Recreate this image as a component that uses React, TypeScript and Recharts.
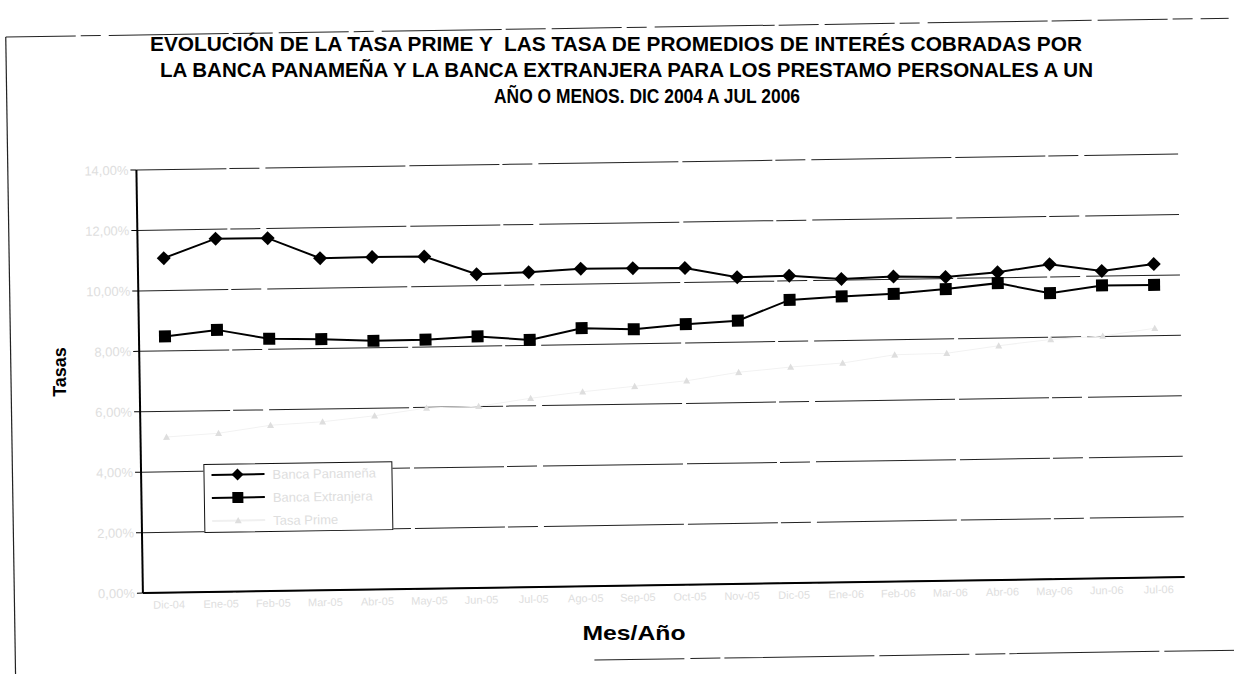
import { LineChart, Line, XAxis, YAxis, CartesianGrid, Legend } from "recharts";

// meses del eje X (etiquetas casi borradas en el original escaneado)
const meses = [
  "Dic-04", "Ene-05", "Feb-05", "Mar-05", "Abr-05", "May-05", "Jun-05", "Jul-05", "Ago-05", "Sep-05",
  "Oct-05", "Nov-05", "Dic-05", "Ene-06", "Feb-06", "Mar-06", "Abr-06", "May-06", "Jun-06", "Jul-06",
];

const bancaPanamena = [
  11.07, 11.69, 11.68, 10.99, 11.0, 10.99, 10.38, 10.42, 10.51, 10.5,
  10.48, 10.15, 10.17, 10.04, 10.09, 10.05, 10.18, 10.42, 10.17, 10.37,
];

const bancaExtranjera = [
  8.48, 8.67, 8.35, 8.31, 8.23, 8.24, 8.32, 8.18, 8.54, 8.48,
  8.62, 8.71, 9.37, 9.46, 9.52, 9.65, 9.82, 9.46, 9.69, 9.68,
];

const tasaPrime = [
  5.15, 5.25, 5.49, 5.58, 5.75, 5.98, 6.01, 6.25, 6.44, 6.59,
  6.75, 7.0, 7.15, 7.26, 7.5, 7.53, 7.75, 7.93, 8.02, 8.25,
];

const yTicks = [0, 2, 4, 6, 8, 10, 12, 14];

const titulo = [
  "EVOLUCIÓN DE LA TASA PRIME Y  LAS TASA DE PROMEDIOS DE INTERÉS COBRADAS POR",
  "LA BANCA PANAMEÑA Y LA BANCA EXTRANJERA PARA LOS PRESTAMO PERSONALES A UN",
  "AÑO O MENOS. DIC 2004 A JUL 2006",
];

const nombres = { panamena: "Banca Panameña", extranjera: "Banca Extranjera", prime: "Tasa Prime" };
const ordenLeyenda = ["panamena", "extranjera", "prime"];

const data = meses.map((mes, i) => ({
  mes,
  panamena: bancaPanamena[i],
  extranjera: bancaExtranjera[i],
  prime: tasaPrime[i],
}));

const FONT = "'Liberation Sans', Arial, sans-serif";
const FAINT = "#dedede";

function diamante(cx: number, cy: number, r: number) {
  return `${cx},${cy - r} ${cx + r},${cy} ${cx},${cy + r} ${cx - r},${cy}`;
}

function triangulo(cx: number, cy: number, r: number) {
  return `${cx},${cy - r} ${cx + r},${cy + r * 0.8} ${cx - r},${cy + r * 0.8}`;
}

const DotDiamante = (p: any) => {
  if (p.cx == null || p.cy == null) return <g key={p.index} />;
  return <polygon key={p.index} points={diamante(p.cx, p.cy, 7)} fill="#000" />;
};

const DotCuadro = (p: any) => {
  if (p.cx == null || p.cy == null) return <g key={p.index} />;
  return <rect key={p.index} x={p.cx - 6} y={p.cy - 6} width={12} height={12} fill="#000" />;
};

const DotTriangulo = (p: any) => {
  if (p.cx == null || p.cy == null) return <g key={p.index} />;
  return <polygon key={p.index} points={triangulo(p.cx, p.cy, 3.5)} fill={FAINT} />;
};

function Leyenda(props: any) {
  const items = [...(props.payload ?? [])].sort(
    (a: any, b: any) => ordenLeyenda.indexOf(a.dataKey) - ordenLeyenda.indexOf(b.dataKey)
  );
  return (
    <div style={{ width: 189, height: 69, boxSizing: "border-box", border: "1.5px solid #111", background: "#fff" }}>
      <svg width={186} height={66} style={{ display: "block" }}>
        {items.map((it: any, i: number) => {
          const y = 10 + i * 23;
          const clave = it.dataKey as string;
          const color = clave === "prime" ? FAINT : "#000";
          return (
            <g key={clave}>
              <line x1={7} x2={60} y1={y} y2={y} stroke={clave === "prime" ? "#f0f0f0" : "#000"} strokeWidth={2} />
              {clave === "panamena" && <polygon points={diamante(33, y, 6)} fill={color} />}
              {clave === "extranjera" && <rect x={27.5} y={y - 5.5} width={11} height={11} fill={color} />}
              {clave === "prime" && <polygon points={triangulo(33, y, 3.5)} fill={color} />}
              <text x={68} y={y + 5} fontSize={13} fontFamily={FONT} fill={FAINT}>
                {it.value}
              </text>
            </g>
          );
        })}
      </svg>
    </div>
  );
}

export default function App() {
  return (
    <div style={{ position: "absolute", left: 0, top: 0, width: 1234, height: 674, background: "#fff" }}>
      {/* el escaneo está ligeramente girado: se gira el gráfico entero */}
      <div
        style={{
          position: "absolute",
          left: 0,
          top: 0,
          width: 1234,
          height: 674,
          transform: "rotate(-0.88deg)",
          transformOrigin: "660.5px 373.5px",
        }}
      >
        <svg width={1234} height={674} style={{ position: "absolute", left: 0, top: 0 }}>
          <line x1={11} y1={27} x2={1240} y2={27} stroke="#222" strokeWidth={1} strokeDasharray="70 5 20 8 120 4 40 6" />
          <line x1={11} y1={27} x2={11} y2={690} stroke="#222" strokeWidth={1.2} />
          <line x1={590} y1={659} x2={1240} y2={659} stroke="#222" strokeWidth={1} strokeDasharray="90 6 30 4 150 5" />
        </svg>
        <div style={{ position: "absolute", left: 0, top: 0 }}>
          <LineChart
            width={1234}
            height={674}
            data={data}
            margin={{ top: 162, right: 52.6, bottom: 58.9, left: 79.6 }}
          >
            <CartesianGrid vertical={false} stroke="#222" strokeWidth={1} strokeDasharray="90 3 30 6 140 4" />
            <XAxis
              dataKey="mes"
              height={30}
              padding={{ left: 26, right: 26 }}
              axisLine={{ stroke: "#000", strokeWidth: 2 }}
              tickLine={false}
              tick={{ fontSize: 11, fill: FAINT, fontFamily: FONT }}
              interval={0}
            />
            <XAxis
              xAxisId="arriba"
              dataKey="mes"
              orientation="top"
              height={0}
              padding={{ left: 26, right: 26 }}
              tick={false}
              tickLine={false}
              axisLine={{ stroke: "#000", strokeWidth: 1.5 }}
            />
            <YAxis
              domain={[0, 14]}
              ticks={yTicks}
              width={60}
              axisLine={{ stroke: "#000", strokeWidth: 2 }}
              tickLine={{ stroke: "#000" }}
              tick={{ fontSize: 13, fill: FAINT, fontFamily: FONT }}
              tickFormatter={(v: number) => v.toFixed(2).replace(".", ",") + "%"}
            />
            <YAxis
              yAxisId="derecha"
              orientation="right"
              domain={[0, 14]}
              width={0}
              tick={false}
              tickLine={false}
              axisLine={{ stroke: "#000", strokeWidth: 2.5 }}
            />
            <Legend
              layout="vertical"
              align="center"
              verticalAlign="middle"
              wrapperStyle={{ left: 202, top: 457, width: 189, height: 69 }}
              content={<Leyenda />}
            />
            <Line
              dataKey="prime"
              name={nombres.prime}
              stroke="#f2f2f2"
              strokeWidth={1}
              dot={DotTriangulo}
              isAnimationActive={false}
            />
            <Line
              dataKey="extranjera"
              name={nombres.extranjera}
              stroke="#000"
              strokeWidth={2}
              dot={DotCuadro}
              isAnimationActive={false}
            />
            <Line
              dataKey="panamena"
              name={nombres.panamena}
              stroke="#000"
              strokeWidth={2}
              dot={DotDiamante}
              isAnimationActive={false}
            />
          </LineChart>
        </div>
      </div>
      {/* textos del título y de los ejes, sin girar */}
      <svg width={1234} height={674} style={{ position: "absolute", left: 0, top: 0, pointerEvents: "none" }}>
        {titulo.map((t, i) => (
          <text
            key={i}
            x={[616, 626.5, 647][i]}
            y={51 + i * 26}
            textAnchor="middle"
            fontSize={20}
            fontWeight="bold"
            fontFamily={FONT}
            fill="#000"
            textLength={[932, 933, 306][i]}
            lengthAdjust="spacingAndGlyphs"
            style={{ whiteSpace: "pre" }}
          >
            {t}
          </text>
        ))}
        <text
          x={0}
          y={0}
          transform="translate(66 372) rotate(-90)"
          textAnchor="middle"
          fontSize={18}
          fontWeight="bold"
          fontFamily={FONT}
          fill="#000"
        >
          Tasas
        </text>
        <text
          x={634}
          y={640}
          textAnchor="middle"
          fontSize={21}
          fontWeight="bold"
          fontFamily={FONT}
          fill="#000"
          textLength={103}
          lengthAdjust="spacingAndGlyphs"
        >
          Mes/Año
        </text>
      </svg>
    </div>
  );
}
